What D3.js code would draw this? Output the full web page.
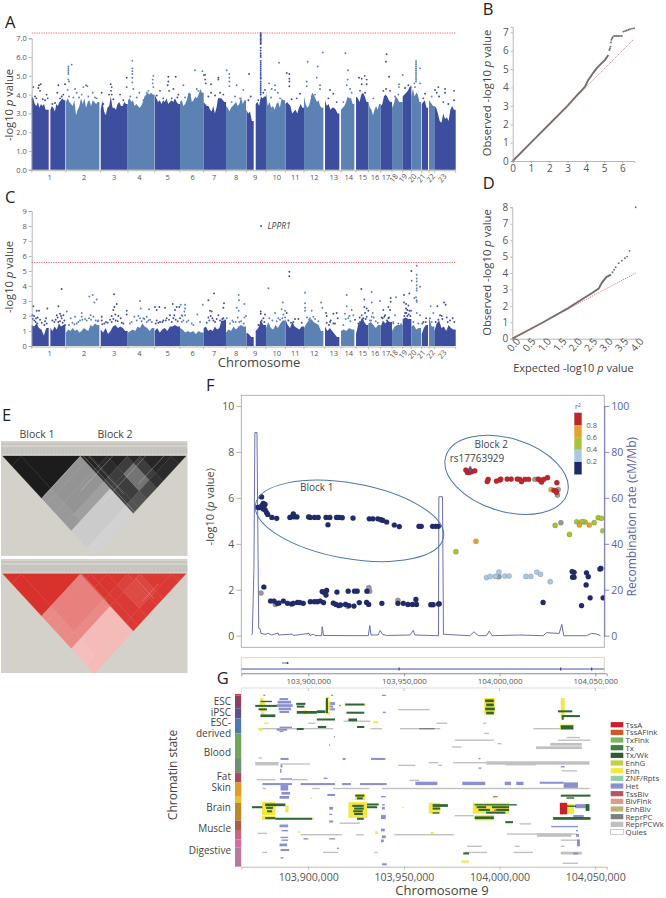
<!DOCTYPE html>
<html>
<head>
<meta charset="utf-8">
<script src="https://cdnjs.cloudflare.com/ajax/libs/d3/7.8.5/d3.min.js"></script>
<style>
body { margin: 0; background: #fff; }
text { font-family: "Open Sans", sans-serif; }
</style>
</head>
<body>
<div id="wrapper"></div>
<script>
// manhattan segments: chromosome, start, end on a shared genome position axis
const chromSegments = [
    [1,0,51],[1,56,101],[2,103,203],[3,207,288],[4,289,368],[5,369,445],[6,445,516],[7,516,583],
    [8,583,643],[9,644,666],[9,672,703],[10,703,760],[11,761,817],[12,817,875],[13,880,923],
    [14,928,968],[15,973,1010],[16,1010,1047],[17,1047,1081],[18,1081,1113],[19,1113,1139],
    [20,1139,1168],[21,1170,1189],[22,1192,1208],[23,1208,1272]
]
const chromLabelPos = [54,157,247,323,408,483,547,613,670,735,791,848,906,951,993,1030,1063,1092,1120,1148,1175,1203,1238]
const chromTicks = [0,103,207,289,369,445,516,583,644,703,761,817,880,928,973,1010,1047,1081,1113,1139,1170,1192,1208,1272]

// top of the solid band of dots in each segment
const topA = [
    [3.9,3.8,3.5,3.4,3.6,3.3,3.5,3.4,3.5,3.2,3.2],
    [3.2,3.4,3.3,3.1,3.5,3.4,3.6,3.7,3.8,3.7],
    [3.6,3.8,3.6,3.5,3.4,3.7,2.9,3.2,3.4,3.8,3.5,3.8,3.3,3.6,3.7,3.4,3.7,3.6,3.5,3.6],
    [3.2,3.7,3.1,2.9,3.3,3.4,3.9,3.3,3.3,3.2,3.5,3.6,3.4,3.4,3.6,3.5],
    [3.7,3.8,3.6,3.7,3.4,3.5,3.4,3.3,3.4,3.6,3.9,4.0,4.1,4.0,4.1,4.0],
    [4.0,3.8,3.6,3.7,3.5,3.7,3.6,3.8,3.5,3.6,3.7,3.6,3.8,3.6,3.5],
    [3.6,3.7,3.4,3.5,3.7,4.1,4.1,3.6,3.7,3.9,3.8,4.0,4.3,4.1],
    [3.6,3.5,3.4,3.4,3.2,3.1,3.4,3.0,3.3,3.8,3.8,3.8,3.7,3.6],
    [3.4,3.3,3.1,3.3,3.4,3.5,3.6,3.4,3.5,3.9,3.5,3.7],
    [3.2,3.0,3.1,2.6],
    [3.5,3.6,3.4,3.9,3.8,3.9],
    [4.2,3.4,3.6,3.3,3.4,3.2,3.5,3.6,3.3,3.8,3.7],
    [3.5,3.6,3.5,3.4,3.0,3.1,3.2,3.0,3.3,3.5,3.3],
    [3.9,3.5,3.3,3.4,3.7,4.1,4.0,3.8,3.6,3.7,3.4,3.3],
    [3.7,3.4,3.5,3.2,3.3,3.3,3.2,3.0],
    [3.2,3.3,3.4,3.6,3.9,3.8,3.8,3.5],
    [3.9,3.8,3.6,4.0,4.1,3.9,3.6],
    [3.6,3.3,3.2,2.9,3.2,3.4,3.2,3.5],
    [3.4,3.5,3.9,4.0,3.9,3.7,3.6],
    [3.3,3.5,3.9,3.8,3.6,3.6],
    [3.9,4.0,4.1,4.2,4.4],
    [3.9,4.3,3.9,4.1,4.0,3.6],
    [3.5,3.6,3.7,3.3],
    [3.7,3.6,3.5,3.4],
    [3.4,3.3,3.0,2.6,2.5,3.0,2.7,2.8,2.6,3.2,3.4,3.2]
]
const topC = [
    [1.4,1.3,1.5,1.2,1.1,0.7,1.2],
    [1.2,1.0,1.3,1.1,1.5,1.3,1.4],
    [0.9,1.1,1.0,1.2,1.0,1.1,0.9,1.0,1.2,1.1,1.0,1.4,1.3,1.5,1.4],
    [1.1,0.9,1.2,0.8,1.0,1.3,1.4,1.2,1.3,1.2,1.0],
    [0.9,1.0,1.1,1.0,1.3,1.2,1.5,1.3,1.2,1.0,1.2],
    [1.0,1.2,0.9,1.1,1.2,1.0,1.3,1.3,1.4,1.3],
    [1.2,1.1,0.9,1.0,0.9,1.0,0.8,1.0,0.9],
    [1.2,1.3,1.0,1.1,1.0,1.3,1.1,1.2,1.7,1.7],
    [0.9,1.1,1.0,1.3,1.1,1.3,1.4,1.3],
    [0.9,0.8,0.6],
    [1.0,1.2,1.7,1.4],
    [1.2,1.6,1.2,1.1,1.4,1.2,1.5,1.7],
    [1.8,1.4,1.2,1.6,1.3,1.2,1.1,1.3],
    [1.2,1.5,1.7,1.8,1.6,1.5,1.4,1.0],
    [1.3,1.0,1.2,1.0,0.8,0.6],
    [1.0,1.1,1.0,1.2,1.1],
    [0.8,1.4,1.6,1.9,1.6,1.4],
    [1.5,1.6,1.4,1.2,1.4],
    [1.3,1.7,1.5,1.7,1.6],
    [1.0,1.3,1.4,1.4],
    [1.8,1.9,1.8],
    [1.3,1.4,1.1,1.2],
    [0.8,1.2,1.4],
    [1.9,1.3],
    [1.0,1.5,1.7,1.2,1.3,1.0,1.4,1.2,1.1]
]
// dots that stand clear of the band: position, -log10 p
const hitsA = [
    [5,4.4],[22,4.5],[20,4.35],[25,4.2],[27,4.55],[45,4.0],[48,3.8],[80,4.5],[77,4.1],[100,4.55],[95,4.0],[85,3.8],
    [110,5.5],[110,5.4],[110,5.3],[110,5.2],[110,5.1],[120,5.6],[110,4.8],[112,4.7],[108,4.25],[130,4.3],[135,4.1],[155,4.4],[163,4.5],[167,4.45],[183,4.1],[150,4.0],
    [237,4.55],[240,4.4],[238,4.2],[240,4.0],[285,4.9],[285,4.4],[265,4.0],[210,4.1],
    [302,5.8],[302,5.4],[302,5.25],[302,5.1],[302,4.9],[302,4.65],[305,4.3],[323,4.1],[350,4.2],[365,5.0],[363,4.8],[363,4.6],[365,4.4],
    [410,4.95],[410,4.7],[408,4.5],[432,4.95],[425,4.3],[412,4.2],[385,4.2],[440,4.0],
    [455,4.5],[490,5.3],[512,5.25],[495,4.3],[517,5.05],
    [520,5.05],[520,4.8],[522,4.6],[538,4.55],[560,4.9],[560,4.8],[538,4.1],[565,4.1],
    [585,5.3],[593,5.1],[593,4.9],[593,4.7],[593,4.45],[615,4.5],[635,4.25],[610,3.9],
    [652,5.1],[657,3.9],
    [742,5.7],[712,4.6],[720,4.3],[730,4.5],[730,4.25],[738,4.1],
    [765,5.15],[773,5.1],[773,4.85],[773,4.7],[773,4.45],[805,4.05],
    [828,5.75],[858,5.5],[855,4.9],[873,6.25],[865,4.5],[865,4.3],[825,4.7],[825,4.45],
    [941,6.2],[949,5.3],[948,4.8],[945,4.5],[955,4.3],[895,4.25],[905,4.05],
    [982,4.9],[990,4.85],[999,5.0],[1005,4.8],[1005,4.55],[990,4.55],
    [1065,6.15],[1063,5.75],[1072,4.95],[1063,4.3],
    [1102,4.55],[1113,5.05],[1102,4.4],[1120,4.35],[1137,4.4],
    [1153,5.8],[1153,5.7],[1153,5.6],[1153,5.5],[1153,5.4],[1153,5.3],[1153,5.2],[1153,5.1],[1153,5.0],[1153,4.9],[1153,4.8],[1153,4.7],
    [1165,5.4],[1165,4.6],[1148,4.6],[1180,4.05],[1220,4.4],[1210,4.25],[1222,3.9],
    [1240,4.3],[1240,4.1],[1267,4.2],[1267,3.7]
]
const speckA = [[10,3.9],[14,3.8],[33,3.75],[40,3.7],[62,3.5],[70,3.55],[90,3.9],[112,3.9],[125,3.85],[142,3.85],[170,3.9],[190,3.85],[195,3.8],[215,3.5],[232,4.0],[245,3.75],[275,3.7],[296,3.9],[315,3.85],[335,3.7],[345,4.1],[375,3.95],[395,3.8],[420,3.8],[437,3.85],[460,3.85],[475,4.0],[500,4.2],[530,3.9],[550,3.95],[575,4.0],[600,3.6],[625,3.8],[650,3.7],[680,3.7],[695,4.1],[700,4.25],[718,3.85],[745,3.8],[780,3.75],[795,3.8],[840,3.9],[850,4.0],[890,3.8],[915,3.6],[935,3.6],[960,4.1],[985,4.2],[1000,4.1],[1025,3.8],[1055,4.2],[1075,4.2],[1090,3.9],[1100,4.0],[1130,4.5],[1150,4.4],[1175,3.8],[1200,3.9],[1215,4.1],[1235,3.6],[1250,3.5]]
const lpprStackA = [7.28,7.2,7.15,7.1,7.0,6.95,6.9,6.8,6.75,6.7,6.5,6.35,6.2,6.1,6.0,5.8,5.7,5.6,5.5,5.4,5.3,5.2,5.1,5.0,4.9,4.85,4.7,4.6,4.5,4.4,4.3,4.2,4.1,4.0]
const hitsC = [
    [5,2.65],[2,2.05],[7,2.0],[15,2.35],[22,2.35],[13,1.85],[17,1.5],[47,2.5],[43,1.85],[45,1.5],[38,1.4],[90,3.8],[80,2.65],[75,2.05],[85,2.15],[95,2.05],[90,1.85],[80,1.6],[100,1.4],[105,2.3],
    [117,1.85],[130,1.95],[150,2.2],[150,1.95],[135,1.5],[173,3.3],[183,3.4],[195,3.1],[188,2.9],[177,2.05],[185,1.95],[165,1.7],[200,1.7],
    [247,3.45],[255,2.8],[248,2.6],[245,2.4],[251,2.1],[260,2.0],[267,1.85],[240,2.0],[285,2.35],[285,2.1],[210,1.95],[210,1.7],[223,1.6],[240,1.6],
    [325,3.0],[327,2.5],[308,1.95],[320,2.0],[325,1.85],[335,1.85],[352,2.45],[345,1.6],[360,1.6],
    [370,2.6],[375,2.4],[383,2.6],[400,2.55],[423,2.8],[435,2.6],[430,2.4],[428,2.05],[415,2.05],[405,1.85],[395,1.7],[385,1.6],[375,1.7],
    [443,2.6],[447,2.75],[460,2.75],[460,2.5],[458,2.3],[450,2.05],[460,2.05],[445,1.85],[455,1.7],[497,2.1],[513,2.75],[480,1.5],[505,1.6],
    [530,3.05],[547,3.5],[535,2.35],[540,2.3],[530,1.9],[537,2.0],[545,1.7],[560,2.05],[577,2.85],[575,2.55],[575,1.85],[570,1.6],[585,1.85],
    [621,3.4],[622,3.05],[615,2.55],[638,2.8],[621,2.35],[643,2.0],[638,1.9],[605,1.6],[623,1.6],
    [687,2.3],[687,2.15],[700,2.1],[710,3.85],[687,1.6],[695,1.85],
    [753,2.9],[750,2.45],[760,2.35],[765,2.2],[760,1.9],[730,2.2],[713,1.85],[740,1.85],[755,2.1],
    [773,4.95],[773,4.65],[800,1.8],[790,1.8],
    [820,3.55],[820,2.85],[820,2.55],[820,2.35],[840,2.35],[868,2.9],[872,2.55],[835,1.85],[845,1.95],
    [883,2.2],[885,2.0],[905,2.15],[915,2.2],[918,1.85],[895,1.6],[905,1.5],
    [945,3.4],[945,2.65],[960,2.4],[940,2.15],[953,2.0],[965,2.05],[950,1.85],
    [989,3.8],[998,3.1],[998,2.6],[1005,2.5],[1010,2.35],[1000,2.2],[990,2.05],[1005,1.95],[995,1.85],[985,1.6],
    [1020,3.6],[1020,2.9],[1023,2.2],[1020,1.95],[1015,1.7],
    [1045,3.0],[1077,3.2],[1077,2.95],[1055,2.4],[1070,2.6],[1075,2.4],[1060,2.05],[1070,1.85],[1053,1.85],
    [1093,3.25],[1090,2.05],[1085,1.6],
    [1117,3.4],[1117,2.9],[1123,2.8],[1130,2.7],[1123,2.5],[1133,3.5],[1127,2.4],[1133,2.35],[1138,2.35],[1120,2.2],[1127,2.0],
    [1139,5.0],[1155,5.35],[1155,4.75],[1155,4.5],[1155,4.3],[1155,4.05],[1140,4.35],[1165,3.95],[1155,3.85],[1155,3.7],[1148,3.2],[1153,3.25],[1155,3.05],[1155,2.95],[1155,2.2],
    [1165,2.05],[1183,1.85],[1175,1.6],
    [1197,2.65],[1217,2.65],[1205,2.2],[1225,2.05],
    [1237,2.9],[1242,2.75],[1230,2.0],[1245,1.9],[1263,1.85]
]
const speckC = [[3,1.8],[8,1.7],[12,1.6],[18,1.9],[25,1.75],[30,1.55],[40,1.65],[62,1.7],[68,1.6],[72,1.75],[78,1.9],[85,1.65],[88,2.0],[93,1.55],[98,1.7],[112,1.4],[122,1.55],[128,1.45],[140,1.6],[145,1.7],[152,1.75],[160,1.8],[172,1.85],[178,1.75],[192,1.7],[198,1.65],[212,1.45],[218,1.5],[228,1.55],[235,1.75],[245,1.8],[252,1.7],[258,1.65],[270,1.55],[275,1.5],[295,1.5],[300,1.6],[315,1.7],[330,1.65],[338,1.8],[345,1.95],[350,1.7],[355,1.75],[372,1.5],[380,1.55],[392,1.6],[402,1.7],[412,1.75],[420,1.6],[425,1.85],[432,1.75],[438,1.65],[450,1.6],[452,2.0],[465,1.6],[470,1.7],[485,1.4],[525,1.55],[533,1.7],[542,1.85],[550,1.6],[555,1.8],[565,1.7],[572,1.8],[580,1.7],[595,1.5],[602,1.7],[612,1.6],[618,1.9],[628,1.65],[636,1.5],[680,1.4],[690,1.7],[698,1.6],[722,1.7],[735,1.65],[745,1.75],[752,1.85],[770,1.7],[778,1.55],[785,1.6],[810,1.55],[826,1.9],[832,1.75],[850,1.8],[860,1.65],[885,1.55],[892,1.4],[897,1.7],[910,1.5],[935,1.4],[942,1.8],[956,1.65],[970,1.75],[980,1.5],[984,1.9],[992,1.75],[1002,1.8],[1018,1.7],[1026,1.9],[1032,1.65],[1038,1.55],[1050,1.9],[1058,1.95],[1066,1.7],[1072,1.9],[1085,1.5],[1100,1.5],[1108,1.45],[1118,2.0],[1124,2.2],[1131,2.1],[1136,2.0],[1145,1.6],[1160,1.5],[1172,1.5],[1182,1.6],[1195,1.85],[1200,1.6],[1212,1.6],[1220,1.75],[1232,1.8],[1248,1.6],[1255,1.7],[1268,1.6]]
const hitC9 = [[688,8.0]]
const thresholdA = 7.28
const thresholdC = 5.57

// QQ curves: expected, observed
const qqDenseB = [[0,0],[1,1],[2,2],[3,3],[3.5,3.55],[3.8,3.87],[3.96,4.05],[4.14,4.41],[4.42,4.81],[4.6,5.05],[4.87,5.32],[5.05,5.5],[5.24,5.77]]
const qqDotsB = [[5.29,6.04],[5.32,6.12],[5.35,6.22],[5.38,6.45],[5.4,6.59],[5.44,6.68],[5.47,6.73],[5.55,6.8],[5.6,6.8],[5.7,6.8],[5.78,6.8],[5.87,6.8],[5.97,6.8],[6.06,7.04],[6.15,7.07],[6.24,7.1],[6.33,7.14],[6.42,7.17],[6.53,7.2],[6.64,7.22]]
const qqDenseD = [[0,0],[0.5,0.5],[1,1],[1.8,1.85],[2.3,2.45],[2.6,2.8],[2.8,3.05],[2.9,3.4],[3.05,3.75],[3.2,3.9]]
const qqDotsD = [[3.25,4.05],[3.3,4.2],[3.35,4.35],[3.45,4.6],[3.55,4.75],[3.65,4.9],[3.72,5.0],[3.8,5.35],[4.0,8.0]]
const qqTicksB = [0,1,2,3,4,5,6]
const qqTicksBY = [0,1,2,3,4,5,6,7]
const qqTicksD = [0,0.5,1,1.5,2,2.5,3,3.5,4]
const qqTicksDY = [0,1,2,3,4,5,6,7,8]

// LD blocks: SNP index breaks and upper triangular value per pair of segments
const ldBreaks = [0,10,42.5,48,57,68,75,92,100]
const ldBlack = [
    [.95,.95,.38,.38,.38,.38,.15,.12],
    [.95,.95,.4,.4,.4,.35,.15,.12],
    [0,0,.92,.92,.88,.8,.8,.7],
    [0,0,0,.92,.88,.8,.8,.7],
    [0,0,0,0,.92,.8,.55,.75],
    [0,0,0,0,0,.9,.8,.85],
    [0,0,0,0,0,0,.9,.88],
    [0,0,0,0,0,0,0,.9]
]
const ldRed = [
    [1,1,.55,.55,.55,.55,.28,.3],
    [1,1,.6,.6,.6,.55,.3,.3],
    [0,0,.98,.98,.98,.96,.96,.96],
    [0,0,0,.98,.98,.96,.96,.96],
    [0,0,0,0,.98,.92,.88,.96],
    [0,0,0,0,0,.95,.9,.95],
    [0,0,0,0,0,0,.96,.96],
    [0,0,0,0,0,0,0,.96]
]
const ldStripesBlack = [[44,44,44,100],[47,47,47,85],[2,42.5,42.5,42.5],[25,60,60,60],[30,78,78,78],[60,88,88,88]]
const ldStripesRed = [[43,43,43,70],[62,90,80,90],[70,75,70,95]]

// region plot, position in kb from 103,865,000
const regionBase = 103865
const genomeTicks = [103900000,103950000,104000000,104050000]
const recombRate = [[5.4,0.3],[5.75,1],[6.6,28.6],[7.1,88.5],[8.2,88.5],[9.1,3.2],[9.8,3],[10.3,1],[12.4,0.6],[14.1,1],[15.9,0.3],[19.2,1.2],[19.5,0.3],[26.7,0.7],[27.2,0.1],[35.4,1],[35.9,0.1],[37.8,0.7],[38.5,0.1],[42,0],[42.3,3.9],[43,0.1],[66.4,0],[67.2,4.4],[67.8,0.3],[71.6,0.3],[72.6,2.3],[73.9,0.6],[76,0.1],[88.2,0.3],[89.9,2.3],[90.8,0.3],[103.1,0],[103.3,60.5],[103.8,60.5],[105.2,60.5],[105.7,0.6],[119.5,0],[121.6,1.7],[123.9,0],[128.2,0],[129.6,2],[131.2,0],[145.6,0.3],[157.8,0],[159.6,1.3],[166.2,1],[167.6,4.9],[168.6,0],[180.5,0],[183.2,1],[185.7,0.7],[187.8,0]]
const snpsLow = [[8.5,5.59],[9.4,5.57],[10.6,6.04],[10.3,5.62],[11,5.69],[11.5,5.76],[12,5.66],[12.4,5.72],[11.5,5.52],[12.5,5.47],[13.2,5.36],[13.8,5.28],[16,5.15],[18.5,5.11],[25.4,5.15],[26.7,5.18],[27.2,5.3],[27.7,5.18],[29.1,5.17],[35.2,5.17],[36.1,5.15],[38.3,5.15],[40.2,5.15],[44.3,5.15],[46.3,5.15],[45.3,4.83],[49.8,5.15],[51.2,5.15],[52.8,5.14],[58.4,5.12],[66.9,5.09],[68.8,5.09],[71.4,5.09],[73,5.05],[74,5.02],[76,4.95],[80,4.82],[82.6,4.75],[92.9,4.76],[94.1,4.76],[100,4.76],[101.6,4.76],[103,4.76],
    [11.8,2.12],[15.3,1.51],[17.1,1.51],[18.8,1.41],[19.7,1.42],[22,1.51],[24.2,1.41],[26.3,1.38],[27.2,1.41],[29.4,1.45],[30.7,1.44],[32.4,1.41],[36.1,1.48],[38.2,1.48],[39.7,1.48],[41.3,1.51],[43,1.44],[42.3,1.92],[44.6,1.97],[43.2,1.89],[44.3,1.77],[50,1.9],[55.9,1.94],[59.2,1.94],[60.6,1.94],[65.7,1.94],[48.1,1.42],[49.5,1.36],[50.9,1.31],[51.9,1.34],[54.5,1.36],[56.3,1.31],[58.9,1.29],[61.7,1.44],[65.5,1.45],[66.6,1.36],[73.5,1.41],[81.9,1.41],[84.7,1.41],[87.1,1.36],[89.5,1.36],[91.3,1.58],[91.6,1.36],[99.1,1.35],[100.3,1.35],[103.1,1.38],[103.5,1.39],
    [157.8,1.45],[173,2.79],[174,2.76],[173.2,2.55],[174,2.55],[180.5,2.74],[181.4,2.57],[180.3,2.21],[182.4,1.65],[177.9,1.31],[188,2.93],[187.5,2.9],[189.2,1.65]]
const snpsGrey = [[10.3,1.86],[17.8,1.36],[66.7,2.09],[67.1,1.94],[81.9,1.54],[55.6,1.28],[153.5,6.81],[165.7,6.36],[165.3,6.12],[167.1,4.92],[134.7,2.57]]
const snpsBlue = [[128.2,2.53],[130.1,2.58],[132.9,2.58],[134.7,2.77],[137.8,2.6],[140,2.6],[148.8,2.58],[151.4,2.58],[154.5,2.77],[156.4,2.67],[161.5,2.35]]
const snpsGreen = [[112.2,3.66],[164.1,4.8],[171.6,4.41],[175.4,4.96],[179.8,4.95],[184.5,4.92],[186.6,5.14],[188.3,5.11],[189,4.57],[178.7,4.96],[177.9,4.96]]
const snpsOrange = [[122.7,4.11],[176.8,4.82],[181.9,4.82],[162,6.36]]
const snpsRed = [[117.4,7.21],[118.3,7.11],[119.2,7.11],[120.4,7.14],[122.1,7.18],[129.1,6.81],[128.6,6.71],[133.4,6.73],[135.2,6.78],[135.7,6.82],[139,6.82],[141.1,6.82],[144.3,6.82],[145.6,6.81],[146.5,6.71],[148.3,6.81],[150.2,6.81],[155.2,6.82],[156.1,6.78],[157,6.69],[158.2,6.81],[160.1,6.88],[165,6.66],[164.5,6.3],[163.5,6.33],[164.8,6.24]]
const leadSnp = [119.7,7.24]
const r2Labels = [0.8,0.6,0.4,0.2]
const r2Colors = ["#c2242c","#e3a033","#a8c23c","#a9c8e4","#1f2a6e"]
const trackMarks = [82.5,167,183.2]

// chromatin states: first row, last row, first kb, last kb
const cellsRepr = [[11,12,82,98.5],[21,22,35,38.7],[19.5,20.5,53.5,67.4],[25,26,10,48],[25,26,67.5,73.5],[25,26,83,104],[46.5,47.5,9,10.8],[50,52.5,7.3,19.5],[51,52,20.4,36],[52,53,82,91],[62.5,63.5,8,17.8],[62.5,63.5,26.5,34.7],[69,70,11,13],[69,70,37,41],[69,70,48,67],[69,70,73.5,182],[94.5,95.5,51.4,62],[102,103,8.5,13.4],[103,104,31,52.6],[103,104,60,64],[103,104,80,111],[116,117,11,13.5],[116,117,42.7,50.5],[116,117,69.5,71.3],
    [21,22,102,107.6],[21,22,126.5,128],[25,26,152.7,167.5],[28.5,29.5,127,129.5],[31.5,32.5,170,177],[33.5,34.5,111.5,132],[33.5,34.5,165.5,182.5],[36,38,161.5,178],[36,37,134,136],[38.5,39.5,110,115],[38.5,40.5,154,178],[50,51,98,103],[50,51,110.7,128],[49.5,52,128,182],[52,53,103,105],[51.5,52.5,138,154],[56,57,167.5,175.5],[63,64,88,93],[89,90,111.5,121.5],[95,96,145.5,151.5],[102.5,103.5,138.8,175.5],[102.5,105,154.5,172.5],[107,108,167,177],[111.5,112.5,118,125.7],[111.5,112.5,143,145.5],[111.5,112.5,167,169],[116,117,117,128.5],[116,117,142.3,152.4],[116,118,167,178],[124,125,168,176]]
const cellsReprDark = [[25,26,93,101]]
const cellsHet = [[3,4.5,20,24.5],[5,7,19,26],[7.5,9.5,18.6,26.8],[10,12,19.5,26],[12.5,14,20,25],[0.5,1.5,11.5,12.5],[0.5,1.5,47,48],[0.5,1.5,73.5,75.5],[24,25,20,26.5],[25.5,27,18.5,24],[27,28,20,22],[6,8,46,49],[8.5,10,45.5,48],[10.5,12,46,49],[8,9,51,52],[13,14,74,75.5],[31,32,48.4,49],[37,38,45.8,46.4],[47,48.5,20.5,24.7],[47,48.5,53,54.5],[47,48.5,67.8,75.3],[52,54,20.5,21.5],[55,58,20.3,21],[62,63,20.4,26.5],[61.5,62.5,43,45],[65.5,67,11,26.5],[65.5,67,31,49],[65.5,67,52.6,57.3],[65.5,67,62,76],[67,71,20.5,24.5],[72,74,21,25.5],[75,77,20,25],[73.5,75,45,49],[83,85,46,48],[88,89,46,47.5],[75,76,73,75.5],[81,82,73.5,75],[83,85,73.5,75],[89,92,73,75.5],[93,94.5,46,48],[96,98,20,24.5],[100,101,21,24.5],[105,106,20.5,24.5],[107,108,21,24.5],[110,112,20,24],[114,115.5,20.5,25],[120,121,20.5,22],[99,101,73,75],[104,106,73.5,75.5],[107,109,73,74.5],[124.5,126,73.5,76],[106,107,46,49],[106,107,32.5,35],[113,114,50,51],
    [64.5,67,91,102.5],[64.5,67,115.5,127.5],[64.5,67,137.7,141],[64.5,67,143.7,147.5],[64.5,66,156,168.5],[65,69,168.5,176],[47,48,124,125],[54,55,124,125.5],[81,84,174.5,181.5],[89,92,173.5,179],[97,98,162,176],[100,101,175,176],[103,105,175,176.5],[107,112,175.5,177],[116.5,118,173.5,176],[53,54,167,169]]
const cellsEnh = [[3,5,10,11.5],[6,9,9.5,12.5],[10,13,10,12.5],[13.5,15,10.5,12],[21,22,11.7,14.3],[25,27,9,11],[12,15,32.5,34.3],[2,4,44.5,46],[5,8,44,46.5],[9,12,44,46.5],[13,15,44.5,46.5],[7,9,54,55],[7,9,64,65],[79.5,89,10.8,17.8],[82,87,23,24.7],[89.5,92.5,10.8,17.8],[79.5,91,56,65.7],[73.5,78,59.5,64.8],[91,92.5,37,38],[101,102,29.5,31],[101,103,70,71.3],[76,77,36,37],[20,21.5,69,71.5],[83,84,84,85],
    [3,15,127,132.5],[3,18,167,169],[22.5,26.5,166.5,174],[80,88,98,104],[80,88,121,140],[89,93,122,132],[81,88,170,174],[101.5,103,99,100.5],[122.5,124,115,119]]
const cellsTx = [[5,6,10,16],[8,9.5,7.3,18.6],[10.5,12,9,13.4],[15,17,10,17.8],[6.5,8,28.7,33.5],[8.5,10,29,33],[12.5,14.5,29,39.5],[12,14,39.5,44],[18,19.5,39.5,49],[7,8.5,54.4,64.3],[13,14.5,55,64.3],[18,20,56,60.5],[23.5,25,60.5,64.3],[23.5,25,40,44.4],[25,26.5,29,32.6],[3,14,44.2,45.3],[82.5,84,5.6,11],[80.5,82.5,12.5,23],[83,84.5,13,16.5],[85.5,87,13.5,16],[90.5,92,12.5,17.8],[91,92.5,17.8,37],[74,75.5,59.6,64.3],[76,77.5,60.5,63.5],[80.5,82,65.7,71.8],[82.5,84,65.7,71],[81.5,83,58,64],[83.5,85,59,64],[85.5,87,58.5,63.5],[87.5,89,59,63.5],[91,92.5,60.5,64],
    [4,6,127.5,132],[7,9,128,132],[10,12,127.5,132.5],[13,15,128,132],[12,13.5,165.5,173],[15.5,17,167.5,177],[17,19,167.5,168.5],[23,26,167,173.5],[74,75.5,167,182.5],[76,77,170,174],[81,83,100,108],[83.5,85,100,104],[87,88,100,103.5],[81,82,122,144],[82.5,84,123,128],[82.5,84,131,140],[84.5,86,124,130],[84.5,86,133,140],[86.5,88,128,138],[90,92,122,132],[90.5,92.5,163,182.5],[93.5,95,138,142],[81,86,180,182],[82,83,170,175],[116.5,118,116,119]]
const cellsTss = [[80,88.5,166.5,170.3]]
const cellsFlank = [[75,76,131.5,134],[85,86,132,133.5]]
const chromatinGroups = [
    ["ESC",701.7],["iPSC",712],["ESC-",722.7],["derived",733],["Blood",752.7],["Fat",776.7],["Skin",787],["Brain",807],["Muscle",828],["Digestive",850.7]
]
const stripRows = [[0,1,"#d83a3a"],[1,10.5,"#8c3f62"],[10.5,18,"#5f4f90"],[18,29,"#4f78b2"],[29,47,"#6fa65c"],[47,58,"#6f8f70"],[58,65,"#ab4a5f"],[65,75,"#e69a2e"],[75,80,"#e8c030"],[80,93,"#b88a2a"],[93,100,"#a85f4a"],[100,107,"#c46a7a"],[107,113,"#d070a8"],[113,127,"#b47aa0"]]
const stateNames = ["TssA","TssAFlnk","TxFlnk","Tx","Tx/Wk","EnhG","Enh","ZNF/Rpts","Het","TssBiv","BivFlnk","EnhBiv","ReprPC","ReprPCWk","Quies"]
const stateColors = ["#cc1f2e","#d9532a","#7ab85a","#3f8040","#2f5c35","#c0d040","#f5e642","#8fcfaa","#8a8fcf","#b85560","#dd9a88","#bdb36f","#808080","#c0c0c0","#ffffff"]

const axisGrey = "#999"
const textGrey = "#555"
const darkBlue = "#3e4e9f"
const lightBlue = "#5c82b4"
const recombBlue = "#5a5fa8"

const svg = d3.select("#wrapper")
    .append("svg")
    .attr("width", 666)
    .attr("height", 898)
    .style("display", "block")

function panelLabel(t, x, y) {
    svg.append("text").attr("x", x).attr("y", y).attr("font-size", 16.5).attr("fill", "#222").text(t)
}
function pLabel(sel, before, after) {
    sel.append("tspan").text(before)
    sel.append("tspan").attr("font-style", "italic").text("p")
    sel.append("tspan").text(after)
}

function drawManhattan(opts) {
    const x = d3.scaleLinear().domain([0, 1272]).range([31.7, 455.7])
    const y = d3.scaleLinear().domain(opts.yDomain).range(opts.yRange)
    const g = svg.append("g")
    const colorFor = p => {
        const seg = chromSegments.find(s => p >= s[1] && p <= s[2])
        const chr = seg ? seg[0] : 9
        return chr % 2 ? darkBlue : lightBlue
    }
    chromSegments.forEach((seg, i) => {
        const tops = opts.tops[i]
        const step = (seg[2] - seg[1]) / tops.length
        const color = seg[0] % 2 ? darkBlue : lightBlue
        const band = d3.area()
            .x((d, k) => x(seg[1] + k * step))
            .y0(y(0))
            .y1(d => y(d))
        g.append("path")
            .datum(tops.concat([tops[tops.length - 1]]))
            .attr("d", band)
            .attr("fill", color)
    })
    g.append("g").selectAll("circle")
        .data(opts.hits)
        .enter()
        .append("circle")
        .attr("cx", d => x(d[0]))
        .attr("cy", d => y(d[1]))
        .attr("r", opts.r)
        .attr("fill", d => colorFor(d[0]))
    // threshold
    g.append("line")
        .attr("x1", x(0)).attr("x2", x(1272))
        .attr("y1", y(opts.threshold)).attr("y2", y(opts.threshold))
        .attr("stroke", "#e0565a").attr("stroke-width", 0.9).attr("stroke-dasharray", "1.2,1.2")
    // y axis
    const yAxis = d3.axisLeft(y).tickValues(d3.range(opts.yDomain[0], opts.yDomain[1] + 1)).tickSize(3).tickPadding(2)
    const ya = g.append("g").attr("transform", `translate(${x(0)},0)`).call(yAxis)
    ya.selectAll("text").attr("font-size", 7.5).attr("fill", textGrey).style("font-family", "Open Sans")
    ya.selectAll("line,path").attr("stroke", axisGrey).attr("stroke-width", 0.7)
    // x axis
    const xa = g.append("g").attr("transform", `translate(0,${y(0) + 1})`)
    xa.append("line").attr("x1", x(0)).attr("x2", x(1272)).attr("stroke", axisGrey).attr("stroke-width", 0.7)
    xa.selectAll("line.t").data(chromTicks).enter().append("line").attr("class", "t")
        .attr("x1", d => x(d)).attr("x2", d => x(d)).attr("y1", 0).attr("y2", 2)
        .attr("stroke", axisGrey).attr("stroke-width", 0.6)
    xa.selectAll("text").data(chromLabelPos).enter().append("text")
        .attr("text-anchor", "middle")
        .attr("font-size", 7.5)
        .attr("fill", textGrey)
        .attr("transform", (d, i) => `translate(${x(d)},9) rotate(${i >= 17 ? -50 : 0})`)
        .text((d, i) => i + 1)
    const lab = svg.append("text")
        .attr("transform", `translate(13,${opts.labelY}) rotate(-90)`)
        .attr("text-anchor", "middle").attr("font-size", 11.2).attr("fill", "#444")
    pLabel(lab, "-log10 ", " value")
    return { x, y }
}

panelLabel("A", 5, 28)
const manA = drawManhattan({
    yDomain: [0, 7], yRange: [169.7, 38.3], tops: topA,
    hits: hitsA.concat(speckA, lpprStackA.map(v => [687, v])), threshold: thresholdA, r: 0.95, labelY: 105
})
panelLabel("C", 5, 202.7)
const manC = drawManhattan({
    yDomain: [0, 9], yRange: [346, 211], tops: topC,
    hits: hitsC.concat(speckC, hitC9), threshold: thresholdC, r: 0.95, labelY: 277
})
svg.append("text").attr("x", manC.x(hitC9[0][0]) + 6.5).attr("y", manC.y(hitC9[0][1]) + 3)
    .attr("font-size", 8.5).attr("font-style", "italic").attr("fill", "#444").text("LPPR1")
svg.append("text").attr("x", 259).attr("y", 366.7).attr("text-anchor", "middle")
    .attr("font-size", 13).attr("fill", "#444").text("Chromosome")

function drawQQ(opts) {
    const x = d3.scaleLinear().domain(opts.xDomain).range(opts.xRange)
    const y = d3.scaleLinear().domain(opts.yDomain).range(opts.yRange)
    const g = svg.append("g")
    const line = d3.line().x(d => x(d[0])).y(d => y(d[1]))
    g.append("path").datum(opts.dense).attr("fill", "none").attr("stroke", "#6f6f6f").attr("stroke-width", 1.9).attr("d", line)
    g.append("path").datum(opts.refLine).attr("fill", "none").attr("stroke", "#e0565a").attr("stroke-width", 0.8).attr("stroke-dasharray", "1.2,1").attr("d", line)
    g.append("g").selectAll("circle").data(opts.dots).enter().append("circle")
        .attr("cx", d => x(d[0])).attr("cy", d => y(d[1])).attr("r", 0.95).attr("fill", "#6f6f6f")
    const xa = g.append("g").attr("transform", `translate(0,${opts.yRange[0]})`)
        .call(d3.axisBottom(x).tickValues(opts.xTicks).tickSize(2).tickPadding(2).tickFormat(opts.xFormat))
    const ya = g.append("g").attr("transform", `translate(${opts.xRange[0]},0)`)
        .call(d3.axisLeft(y).tickValues(opts.yTicks).tickSize(2).tickPadding(2).tickFormat(d3.format("d")))
    xa.selectAll("line,path").attr("stroke", axisGrey).attr("stroke-width", 0.7)
    ya.selectAll("line,path").attr("stroke", axisGrey).attr("stroke-width", 0.7)
    ya.selectAll("text").attr("font-size", 10).attr("fill", textGrey).style("font-family", "Open Sans")
    xa.selectAll("text").attr("font-size", 10).attr("fill", textGrey).style("font-family", "Open Sans")
    if (opts.rotate) {
        xa.selectAll("text")
            .attr("text-anchor", "end")
            .attr("dy", "0.3em").attr("y", 5).attr("x", 3)
            .attr("transform", "rotate(-50)")
    }
    const lab = svg.append("text")
        .attr("transform", `translate(491,${opts.labelY}) rotate(-90)`)
        .attr("text-anchor", "middle").attr("font-size", 11.3).attr("fill", "#444")
    pLabel(lab, "Observed -log10 ", " value")
}

panelLabel("B", 482.7, 15)
drawQQ({
    xDomain: [0, 6.65], xRange: [512.7, 634.2], yDomain: [0, 7.3], yRange: [161, 26.8],
    dense: qqDenseB, dots: qqDotsB, refLine: [[0,0],[6.6,6.6]], xTicks: qqTicksB, yTicks: qqTicksBY,
    xFormat: d3.format("d"), labelY: 93
})
panelLabel("D", 482.7, 189)
drawQQ({
    xDomain: [0, 4], xRange: [512.3, 635.7], yDomain: [0, 8], yRange: [338.7, 207.3],
    dense: qqDenseD, dots: qqDotsD, refLine: [[0,0],[4,4]], xTicks: qqTicksD, yTicks: qqTicksDY,
    xFormat: d3.format(".1f"), rotate: true, labelY: 272.5
})
const expLab = svg.append("text").attr("x", 573.5).attr("y", 372).attr("text-anchor", "middle")
    .attr("font-size", 11).attr("fill", "#444")
pLabel(expLab, "Expected -log10 ", " value")

// LD triangles
function drawLD(top, bgTop, bgBottom, matrix, colorScale, stripes, stripeColor) {
    const g = svg.append("g")
    const sx = d3.scaleLinear().domain([0, 100]).range([2.7, 186])
    const sh = d3.scaleLinear().domain([0, 100]).range([0, 99.7])
    const px = (i, j) => [sx((i + j) / 2), top + sh(j - i)]
    g.append("rect").attr("x", 1).attr("y", bgTop).attr("width", 186.5).attr("height", bgBottom - bgTop).attr("fill", "#d3d1c9")
    g.append("rect").attr("x", 1.5).attr("y", top - 8.5).attr("width", 185.5).attr("height", 6.5).attr("fill", "#bdbcb6")
    g.append("line").attr("x1", 1.5).attr("x2", 187).attr("y1", bgTop + 3).attr("y2", bgTop + 3).attr("stroke", "#b3b2ac").attr("stroke-width", 0.8)
    g.selectAll("line.snp").data(d3.range(0, 100.5, 0.75)).enter().append("line").attr("class", "snp")
        .attr("x1", d => sx(d)).attr("x2", d => sx(d))
        .attr("y1", top - 8).attr("y2", top - 2)
        .attr("stroke", "#e4e3de").attr("stroke-width", 0.35)
    const cells = []
    matrix.forEach((row, a) => row.forEach((v, b) => { if (b >= a) cells.push({ a, b, v }) }))
    g.selectAll("polygon").data(cells).enter().append("polygon")
        .attr("points", d => {
            const i0 = ldBreaks[d.a], i1 = ldBreaks[d.a + 1], j0 = ldBreaks[d.b], j1 = ldBreaks[d.b + 1]
            if (d.a === d.b) return [px(i0, i0), px(i0, j1), px(j1, j1)].join(" ")
            return [px(i1, j0), px(i0, j0), px(i0, j1), px(i1, j1)].join(" ")
        })
        .attr("fill", d => colorScale(d.v))
        .attr("stroke", d => colorScale(d.v))
        .attr("stroke-width", 0.3)
    g.selectAll("line.stripe").data(stripes).enter().append("line").attr("class", "stripe")
        .attr("x1", d => px(d[0], d[1])[0]).attr("y1", d => px(d[0], d[1])[1])
        .attr("x2", d => px(d[2], d[3])[0]).attr("y2", d => px(d[2], d[3])[1])
        .attr("stroke", stripeColor).attr("stroke-width", 0.6).attr("stroke-opacity", 0.5)
}
panelLabel("E", 2, 420.7)
svg.append("text").attr("x", 37).attr("y", 437.5).attr("text-anchor", "middle").attr("font-size", 10.5).attr("fill", "#444").text("Block 1")
svg.append("text").attr("x", 115).attr("y", 437.5).attr("text-anchor", "middle").attr("font-size", 10.5).attr("fill", "#444").text("Block 2")
drawLD(456, 441, 556, ldBlack, d3.scaleLinear().domain([0, 1]).range(["#ececec", "#111111"]), ldStripesBlack, "#e8e8e8")
drawLD(573.7, 559, 673, ldRed, d3.scaleLinear().domain([0, 1]).range(["#fff6f6", "#d9322c"]), ldStripesRed, "#f6caca")

// region association plot
panelLabel("F", 206, 391)
const rx = d3.scaleLinear().domain([0, 189.8]).range([241.3, 604.3])
const ry = d3.scaleLinear().domain([0, 10]).range([635.7, 406])
const rr = d3.scaleLinear().domain([0, 100]).range([635.7, 406])
const fPlot = svg.append("g")
svg.append("clipPath").attr("id", "regionClip").append("rect")
    .attr("x", 241.3).attr("y", 395.3).attr("width", 363).attr("height", 252)
fPlot.append("rect").attr("x", 241.3).attr("y", 395.3).attr("width", 363).attr("height", 252)
    .attr("fill", "none").attr("stroke", "#aaa").attr("stroke-width", 0.9)
const fInner = fPlot.append("g").attr("clip-path", "url(#regionClip)")
fInner.append("path").datum(recombRate).attr("fill", "none").attr("stroke", recombBlue).attr("stroke-width", 0.9)
    .attr("d", d3.line().x(d => rx(d[0])).y(d => rr(d[1])))
const snpGroups = [[snpsGrey, "#9a9a9a"], [snpsLow, "#1f2a6e"], [snpsBlue, "#a9c8e4"], [snpsGreen, "#a8c23c"], [snpsOrange, "#e3a033"], [snpsRed, "#c2242c"]]
snpGroups.forEach(([pts, color]) => {
    fInner.append("g").selectAll("circle").data(pts).enter().append("circle")
        .attr("cx", d => rx(d[0])).attr("cy", d => ry(d[1])).attr("r", 2.6)
        .attr("fill", color).attr("stroke", "#333").attr("stroke-width", 0.25).attr("stroke-opacity", 0.6)
})
fInner.append("path")
    .attr("d", d3.symbol(d3.symbolDiamond, 16))
    .attr("transform", `translate(${rx(leadSnp[0])},${ry(leadSnp[1])})`)
    .attr("fill", "#6a4ba0").attr("stroke", "#333").attr("stroke-width", 0.25)
const lAxis = fPlot.append("g").attr("transform", "translate(241.3,0)")
    .call(d3.axisLeft(ry).tickValues([0,2,4,6,8,10]).tickSize(5).tickPadding(2).tickSizeOuter(0))
lAxis.select("path").remove()
lAxis.selectAll("line").attr("stroke", axisGrey).attr("stroke-width", 0.7)
lAxis.selectAll("text").attr("font-size", 10.5).attr("fill", textGrey).style("font-family", "Open Sans")
const rAxis = fPlot.append("g").attr("transform", "translate(604.3,0)")
    .call(d3.axisRight(rr).tickValues([0,20,40,60,80,100]).tickSize(5).tickPadding(2).tickSizeOuter(0))
rAxis.select("path").attr("stroke", recombBlue).attr("stroke-width", 0.8)
rAxis.selectAll("line").attr("stroke", recombBlue).attr("stroke-width", 0.7)
rAxis.selectAll("text").attr("font-size", 10.5).attr("fill", recombBlue).style("font-family", "Open Sans")
const fy = svg.append("text").attr("transform", "translate(214,506.7) rotate(-90)").attr("text-anchor", "middle")
    .attr("font-size", 11).attr("fill", "#444")
pLabel(fy, "-log10 (", " value)")
svg.append("text").attr("transform", "translate(635.5,516.7) rotate(-90)").attr("text-anchor", "middle")
    .attr("font-size", 12).attr("fill", recombBlue).text("Recombination rate (cM/Mb)")
const blockEllipses = [[56.6,5.0,95.4,37.7,10],[138.7,7.0,63.5,36.5,17]]
fPlot.selectAll("ellipse").data(blockEllipses).enter().append("ellipse")
    .attr("rx", d => d[2]).attr("ry", d => d[3])
    .attr("transform", d => `translate(${rx(d[0])},${ry(d[1])}) rotate(${d[4]})`)
    .attr("fill", "none").attr("stroke", "#4a78ad").attr("stroke-width", 1)
svg.append("text").attr("x", 316.7).attr("y", 490.7).attr("text-anchor", "middle").attr("font-size", 10).attr("fill", "#444").text("Block 1")
svg.append("text").attr("x", 491.3).attr("y", 447.5).attr("text-anchor", "middle").attr("font-size", 10).attr("fill", "#444").text("Block 2")
svg.append("text").attr("x", 477).attr("y", 461.8).attr("text-anchor", "middle").attr("font-size", 10).attr("fill", "#444").text("rs17763929")

// r2 colour key
const keyY = d3.scaleBand().domain(d3.range(r2Colors.length)).range([412.7, 474.3])
svg.append("g").selectAll("rect").data(r2Colors).enter().append("rect")
    .attr("x", 574.3).attr("width", 7.4).attr("y", (d, i) => keyY(i)).attr("height", keyY.bandwidth() + 0.2).attr("fill", d => d)
svg.append("g").selectAll("text").data(r2Labels).enter().append("text")
    .attr("x", 586.5).attr("y", (d, i) => keyY(i + 1) + 2.5).attr("font-size", 7.5).attr("fill", textGrey).text(d => d)
svg.append("text").attr("x", 578).attr("y", 409).attr("text-anchor", "middle").attr("font-size", 7.5).attr("fill", textGrey)
    .call(t => { t.append("tspan").text("r"); t.append("tspan").attr("font-size", 5).attr("dy", -2.5).text("2") })

// gene track under the region plot
const track = svg.append("g")
track.append("rect").attr("x", 241.3).attr("y", 657.7).attr("width", 363).attr("height", 15.6)
    .attr("fill", "#fff").attr("stroke", "#ccc").attr("stroke-width", 0.8)
track.append("line").attr("x1", 241.3).attr("x2", 604.3).attr("y1", 669).attr("y2", 669).attr("stroke", "#a5a8d4").attr("stroke-width", 2)
track.selectAll("rect.mark").data(trackMarks).enter().append("rect").attr("class", "mark")
    .attr("x", d => rx(d) - 0.6).attr("width", 1.2).attr("y", 667.5).attr("height", 3).attr("fill", "#3c4190")
track.append("line").attr("x1", rx(21.3)).attr("x2", rx(24)).attr("y1", 663).attr("y2", 663).attr("stroke", "#333").attr("stroke-width", 0.7)
track.append("path").attr("d", d3.symbol(d3.symbolTriangle, 3)).attr("transform", `translate(${rx(24.2)},663) rotate(90)`).attr("fill", "#333")
const tickKb = d => d / 1000 - regionBase
const topAxis = d3.axisBottom(d3.scaleLinear().domain([0, 191]).range([241.3, 606.7]))
    .tickValues(genomeTicks.map(tickKb)).tickSize(3).tickPadding(2).tickFormat(d => d3.format(",")(Math.round((d + regionBase) * 1000)))
const ta = track.append("g").attr("transform", "translate(0,673.3)").call(topAxis)
ta.selectAll("path,line").attr("stroke", "#777").attr("stroke-width", 0.7)
ta.selectAll("text").attr("font-size", 7.9).attr("fill", textGrey).style("font-family", "Open Sans")

// chromatin state panel
panelLabel("G", 216.7, 684)
const gx = d3.scaleLinear().domain([0, 191]).range([241.3, 606.7])
const gy = d3.scaleLinear().domain([0, 127]).range([694, 866.7])
const gPanel = svg.append("g")
gPanel.append("line").attr("x1", 241.3).attr("x2", 606.7).attr("y1", 688).attr("y2", 688).attr("stroke", "#ddd")
gPanel.append("line").attr("x1", 241.3).attr("x2", 241.3).attr("y1", 688).attr("y2", 866.7).attr("stroke", "#ddd")
gPanel.selectAll("line.tk").data(genomeTicks.map(tickKb)).enter().append("line").attr("class", "tk")
    .attr("x1", d => gx(d)).attr("x2", d => gx(d)).attr("y1", 688).attr("y2", 691).attr("stroke", "#aaa").attr("stroke-width", 0.7)
gPanel.selectAll("rect.strip").data(stripRows).enter().append("rect").attr("class", "strip")
    .attr("x", 235).attr("width", 6).attr("y", d => gy(d[0])).attr("height", d => gy(d[1]) - gy(d[0])).attr("fill", d => d[2])
const stateLayers = [[cellsRepr, "#c0c0c0"], [cellsReprDark, "#808080"], [cellsHet, "#8a8fcf"], [cellsEnh, "#f5e642"], [cellsTx, "#2f6532"], [cellsTss, "#cc1f2e"], [cellsFlank, "#d9732a"]]
stateLayers.forEach(([cells, color]) => {
    gPanel.append("g").selectAll("rect").data(cells).enter().append("rect")
        .attr("x", d => gx(d[2])).attr("width", d => gx(d[3]) - gx(d[2]))
        .attr("y", d => gy(d[0])).attr("height", d => gy(d[1]) - gy(d[0]))
        .attr("fill", color)
})
const bottomAxis = d3.axisBottom(gx).tickValues(genomeTicks.map(tickKb)).tickSize(3).tickPadding(4).tickSizeOuter(3)
    .tickFormat(d => d3.format(",")(Math.round((d + regionBase) * 1000)))
const ba = gPanel.append("g").attr("transform", "translate(0,866.7)").call(bottomAxis)
ba.selectAll("path,line").attr("stroke", "#aaa").attr("stroke-width", 0.8)
ba.selectAll("text").attr("font-size", 10.6).attr("fill", textGrey).style("font-family", "Open Sans")
gPanel.selectAll("text.grp").data(chromatinGroups).enter().append("text").attr("class", "grp")
    .attr("x", 231).attr("y", d => d[1] + 3.5).attr("text-anchor", "end").attr("font-size", 10).attr("fill", "#444").text(d => d[0])
svg.append("text").attr("transform", "translate(177,775) rotate(-90)").attr("text-anchor", "middle")
    .attr("font-size", 12).attr("fill", "#444").text("Chromatin state")
svg.append("text").attr("x", 442).attr("y", 894.5).attr("text-anchor", "middle").attr("font-size", 13).attr("fill", "#444").text("Chromosome 9")

// legend
const legendY = d3.scaleLinear().domain([0, 14]).range([724.7, 832])
const legend = svg.append("g")
legend.selectAll("rect").data(stateNames).enter().append("rect")
    .attr("x", 610.7).attr("width", 12.6).attr("y", (d, i) => legendY(i) - 2.6).attr("height", 5.2)
    .attr("fill", (d, i) => stateColors[i]).attr("stroke", (d, i) => i === 14 ? "#aaa" : "none").attr("stroke-width", 0.6)
legend.selectAll("text").data(stateNames).enter().append("text")
    .attr("x", 625.5).attr("y", (d, i) => legendY(i) + 3).attr("font-size", 7.9).attr("fill", "#444").text(d => d)
</script>
</body>
</html>
